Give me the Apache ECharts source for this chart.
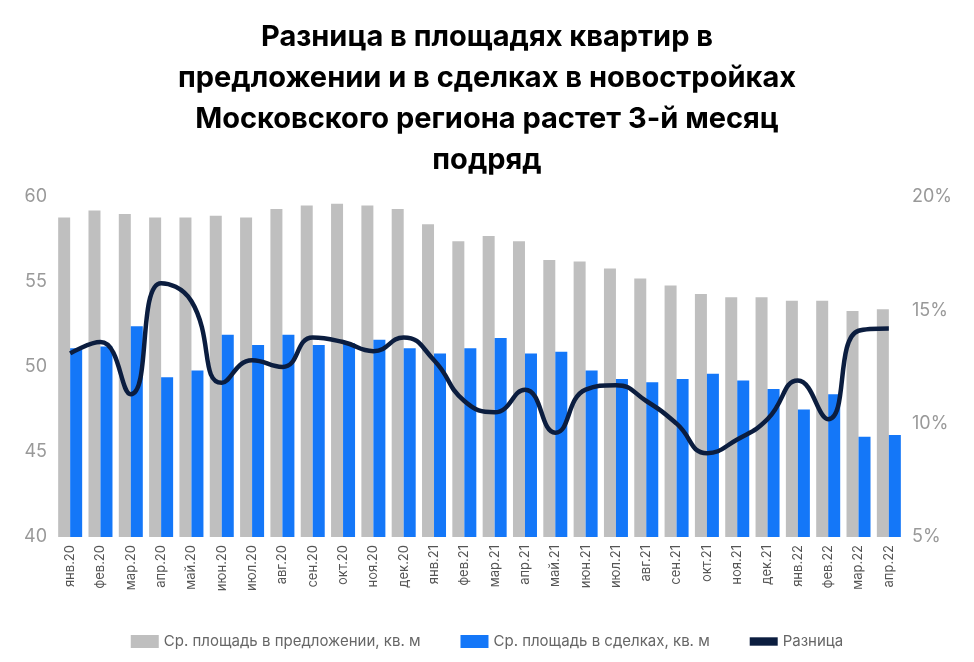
<!DOCTYPE html>
<html><head><meta charset="utf-8">
<script src="https://cdn.jsdelivr.net/npm/echarts@6/dist/echarts.min.js"></script>
<style>html,body{margin:0;padding:0;background:#fff}#c{width:974px;height:662px}</style>
</head><body><div id="c"></div>
<script>
const categories=["янв.20","фев.20","мар.20","апр.20","май.20","июн.20","июл.20","авг.20","сен.20","окт.20","ноя.20","дек.20","янв.21","фев.21","мар.21","апр.21","май.21","июн.21","июл.21","авг.21","сен.21","окт.21","ноя.21","дек.21","янв.22","фев.22","мар.22","апр.22"];
const offerArea=[58.8,59.2,59.0,58.8,58.8,58.9,58.8,59.3,59.5,59.6,59.5,59.3,58.4,57.4,57.7,57.4,56.3,56.2,55.8,55.2,54.8,54.3,54.1,54.1,53.9,53.9,53.3,53.4];
const dealArea=[51.1,51.2,52.4,49.4,49.8,51.9,51.3,51.9,51.3,51.4,51.6,51.1,50.8,51.1,51.7,50.8,50.9,49.8,49.3,49.1,49.3,49.6,49.2,48.7,47.5,48.4,45.9,46.0];
const diffPct=[13.1,13.6,11.3,16.2,15.4,11.8,12.8,12.5,13.8,13.6,13.2,13.8,12.8,11.0,10.5,11.5,9.6,11.5,11.7,11.0,10.0,8.7,9.3,10.2,11.9,10.2,14.1,14.2];
const chart=echarts.init(document.getElementById('c'));
const ax={fontSize:18,color:'#999',fontFamily:'Inter'};
chart.setOption({
 title:{text:'Разница в площадях квартир в\nпредложении и в сделках в новостройках\nМосковского региона растет 3-й месяц\nподряд',left:'center',top:12,textStyle:{fontFamily:'Inter',fontSize:29,fontWeight:'bold',color:'#000',lineHeight:41}},
 grid:{left:55,right:70,top:197,bottom:125},
 legend:{bottom:8,itemGap:40,textStyle:{fontSize:15,color:'#666',fontFamily:'Inter'},
  data:[{name:'Ср. площадь в предложении, кв. м',icon:'rect'},{name:'Ср. площадь в сделках, кв. м',icon:'rect'},{name:'Разница',icon:'path://M0,0H10V3H0Z'}],itemWidth:28,itemHeight:13},
 xAxis:{type:'category',data:categories,axisLabel:{rotate:90,fontSize:13,color:'#555',fontFamily:'Inter'},axisTick:{show:false},axisLine:{show:false}},
 yAxis:[{type:'value',min:40,max:60,interval:5,axisLabel:ax,splitLine:{show:false}},
  {type:'value',min:5,max:20,interval:5,axisLabel:Object.assign({formatter:'{value}%'},ax),splitLine:{show:false}}],
 series:[
  {name:'Ср. площадь в предложении, кв. м',type:'bar',data:offerArea,itemStyle:{color:'#bfbfbf'},barWidth:12,barGap:'0%'},
  {name:'Ср. площадь в сделках, кв. м',type:'bar',data:dealArea,itemStyle:{color:'#1477f8'},barWidth:12},
  {name:'Разница',type:'line',yAxisIndex:1,data:diffPct,smooth:true,symbol:'none',lineStyle:{color:'#0b1d3f',width:4.5},itemStyle:{color:'#0b1d3f'}}
 ]
});
</script></body></html>
